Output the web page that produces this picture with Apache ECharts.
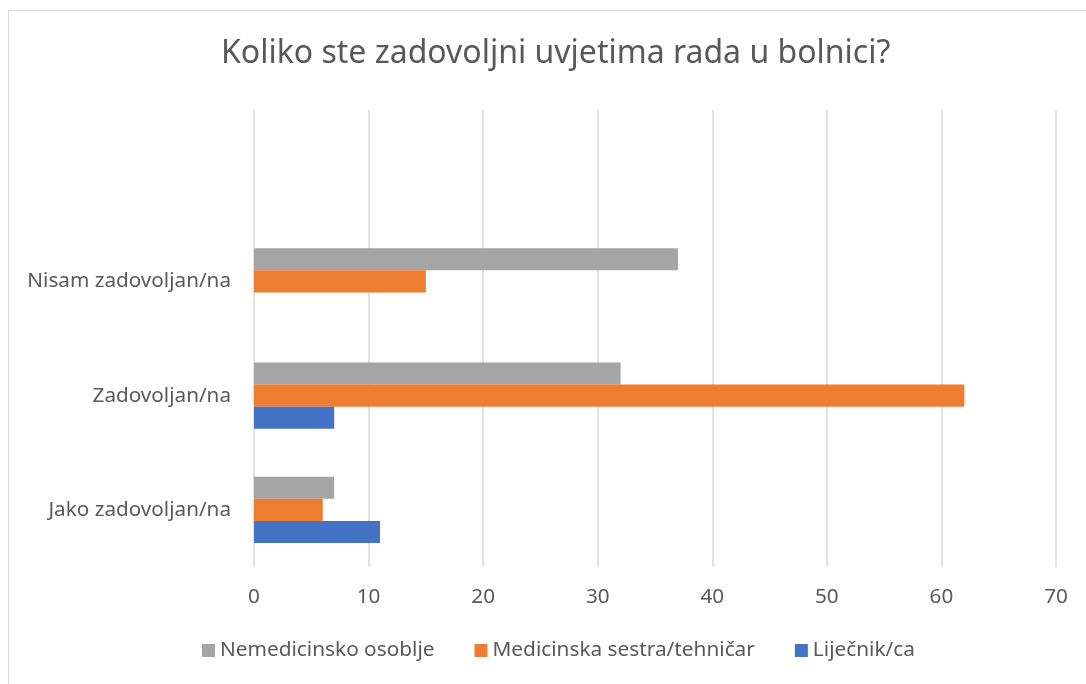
<!DOCTYPE html>
<html>
<head>
<meta charset="utf-8">
<script src="https://cdn.jsdelivr.net/npm/echarts@6/dist/echarts.min.js"></script>
<style>
  html, body { margin: 0; padding: 0; background: #fff; }
  #frame { position: absolute; left: 8px; top: 10px; width: 1100px; height: 700px; border: 1px solid #d9d9d9; box-sizing: border-box; }
  #chart { position: absolute; left: 0; top: 0; width: 1086px; height: 684px; }
</style>
</head>
<body>
<div id="frame"></div>
<div id="chart"></div>
<script>
// kategorije (odozdo prema gore), zadnja je prazna
const categories = ["Jako zadovoljan/na", "Zadovoljan/na", "Nisam zadovoljan/na", ""];
const nemedicinsko = [7, 32, 37, null];
const sestra = [6, 62, 15, null];
const lijecnik = [11, 7, null, null];

const font = "'Noto Sans', 'Open Sans', sans-serif";
const chart = echarts.init(document.getElementById("chart"));

chart.setOption({
  animation: false,
  textStyle: { fontFamily: font },
  title: {
    text: "Koliko ste zadovoljni uvjetima rada u bolnici?",
    left: 216,
    top: 33,
    textStyle: { fontSize: 32, fontWeight: "normal", color: "#595959", fontFamily: font }
  },
  legend: {
    bottom: 18,
    left: 197,
    itemWidth: 13,
    itemHeight: 13,
    itemGap: 40,
    icon: "rect",
    textStyle: { fontSize: 20.8, color: "#595959", fontFamily: font }
  },
  grid: { left: 254, right: 30, top: 110, bottom: 117 },
  xAxis: {
    type: "value",
    min: 0,
    max: 70,
    interval: 10,
    axisLine: { show: false },
    axisTick: { show: false },
    axisLabel: { fontSize: 20.7, color: "#595959", margin: 20, fontFamily: font },
    splitLine: { lineStyle: { color: "#d9d9d9", width: 1.5 } }
  },
  yAxis: {
    type: "category",
    data: categories,
    axisLine: { show: false },
    axisTick: { show: false },
    axisLabel: { fontSize: 20.7, color: "#595959", margin: 23, fontFamily: font }
  },
  series: [
    { name: "Nemedicinsko osoblje", type: "bar", data: nemedicinsko, itemStyle: { color: "#a5a5a5" }, barGap: "0%", barCategoryGap: "42%" },
    { name: "Medicinska sestra/tehničar", type: "bar", data: sestra, itemStyle: { color: "#ed7d31" } },
    { name: "Liječnik/ca", type: "bar", data: lijecnik, itemStyle: { color: "#4472c4" } }
  ]
});
</script>
</body>
</html>
